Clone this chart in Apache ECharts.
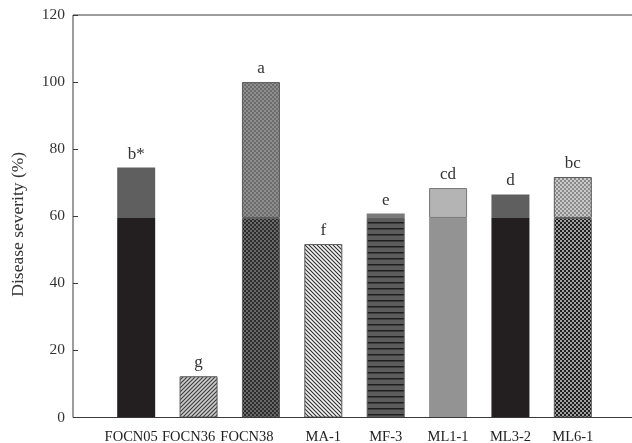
<!DOCTYPE html>
<html>
<head>
<meta charset="utf-8">
<script src="https://cdn.jsdelivr.net/npm/echarts@6/dist/echarts.min.js"></script>
<style>html,body{margin:0;padding:0;background:#fff;}#c{width:632px;height:443px;}</style>
</head>
<body>
<div id="c"></div>
<script>
// ---- data ----
const categories = ['FOCN05', 'FOCN36', 'FOCN38', 'MA-1', 'MF-3', 'ML1-1', 'ML3-2', 'ML6-1'];
const totalSeverity = [74.5, 12.3, 100, 51.7, 60.8, 68.4, 66.5, 71.7];
const lowerPart = [59.5, 12.3, 59.5, 51.7, 59.5, 59.5, 59.5, 59.5];
const letters = ['b*', 'g', 'a', 'f', 'e', 'cd', 'd', 'bc'];
const yTicks = [0, 20, 40, 60, 80, 100, 120];

// ---- pattern helpers ----
function pat(w, h, draw) {
  const c = document.createElement('canvas');
  c.width = w; c.height = h;
  const g = c.getContext('2d');
  draw(g, w, h);
  return { image: c, repeat: 'repeat' };
}
function hatch(bg, fg, size, dir) {
  return pat(size, size, (g, w, h) => {
    g.fillStyle = bg; g.fillRect(0, 0, w, h);
    g.strokeStyle = fg; g.lineWidth = 1.1;
    g.beginPath();
    if (dir > 0) {
      g.moveTo(-1, h + 1); g.lineTo(w + 1, -1);
      g.moveTo(-1, 1); g.lineTo(1, -1);
      g.moveTo(w - 1, h + 1); g.lineTo(w + 1, h - 1);
    } else {
      g.moveTo(-1, -1); g.lineTo(w + 1, h + 1);
      g.moveTo(w - 1, -1); g.lineTo(w + 1, 1);
      g.moveTo(-1, h - 1); g.lineTo(1, h + 1);
    }
    g.stroke();
  });
}
function checker(bg, fg) {
  return pat(4, 4, (g) => {
    g.fillStyle = bg; g.fillRect(0, 0, 4, 4);
    g.fillStyle = fg; g.fillRect(0, 0, 2, 2); g.fillRect(2, 2, 2, 2);
  });
}
function stripes(bg, fg) {
  return pat(4, 6, (g) => {
    g.fillStyle = bg; g.fillRect(0, 0, 4, 6);
    g.fillStyle = fg; g.fillRect(0, 0, 4, 1.5);
  });
}

const border = { borderColor: '#5a5a5a', borderWidth: 1 };
const lowerStyles = [
  { color: '#231f20' },
  Object.assign({ color: hatch('#cdcdcd', '#3a3a3a', 4, 1) }, border),
  Object.assign({ color: checker('#2c2c2c', '#6a6a6a') }, border),
  Object.assign({ color: hatch('#f4f4f4', '#2e2e2e', 4, -1) }, border),
  Object.assign({ color: stripes('#5c5c5c', '#1e1e1e') }, border),
  { color: '#939393' },
  { color: '#231f20' },
  Object.assign({ color: checker('#1e1e1e', '#a0a0a0') }, border)
];
const upperStyles = [
  { color: '#5f5f5f' },
  { color: '#cdcdcd' },
  Object.assign({ color: checker('#8e8e8e', '#6c6c6c') }, border),
  { color: '#f4f4f4' },
  { color: '#7a7a7a' },
  Object.assign({ color: '#b4b4b4' }, { borderColor: '#777', borderWidth: 1 }),
  { color: '#5f5f5f' },
  Object.assign({ color: checker('#cacaca', '#8a8a8a') }, border)
];

const labelShift = [10, 20, 28, 0, 0, 0, 0, 0];
const xData = categories.map((c, i) => ({ value: c, textStyle: { padding: [0, labelShift[i], 0, 0] } }));

const lowerData = lowerPart.map((v, i) => ({ value: v, itemStyle: lowerStyles[i] }));
const upperData = totalSeverity.map((t, i) => ({
  value: +(t - lowerPart[i]).toFixed(2),
  itemStyle: upperStyles[i],
  label: { formatter: letters[i] }
}));

const font = '"Liberation Serif", "Times New Roman", serif';
const chart = echarts.init(document.getElementById('c'), null, { renderer: 'canvas' });
chart.setOption({
  animation: false,
  backgroundColor: '#ffffff',
  textStyle: { fontFamily: font },
  grid: [
    { left: 105, right: 28, top: 15, bottom: 25.5, show: false, outerBoundsMode: 'none', containLabel: false },
    { left: 73, width: 620, top: 15, bottom: 25.5, show: true, borderColor: '#3a3a3a', borderWidth: 1, backgroundColor: 'transparent', z: 3, outerBoundsMode: 'none', containLabel: false }
  ],
  xAxis: [
    {
      type: 'category', gridIndex: 0, data: xData,
      axisLine: { show: false }, axisTick: { show: false },
      axisLabel: { color: '#222', fontSize: 14.5, fontFamily: font, margin: 12, interval: 0 }
    },
    { type: 'value', gridIndex: 1, show: false }
  ],
  yAxis: [
    {
      type: 'value', gridIndex: 0, min: 0, max: 120, interval: 20, offset: 32,
      name: 'Disease severity (%)', nameLocation: 'middle', nameRotate: 90, nameGap: 46,
      nameTextStyle: { color: '#333', fontSize: 17.5, fontFamily: font, padding: [0, 16, 0, 0] },
      axisLine: { show: false },
      axisTick: { show: true, inside: true, length: 5, lineStyle: { color: '#3a3a3a' } },
      axisLabel: { color: '#333', fontSize: 15.5, fontFamily: font, margin: 8,
        customValues: yTicks },
      splitLine: { show: false }
    },
    { type: 'value', gridIndex: 1, show: false }
  ],
  series: [
    { type: 'bar', name: 'lower', stack: 's', barWidth: 38, data: lowerData, xAxisIndex: 0, yAxisIndex: 0 },
    { type: 'bar', name: 'upper', stack: 's', barWidth: 38, data: upperData, xAxisIndex: 0, yAxisIndex: 0,
      label: { show: true, position: 'top', distance: 5, color: '#333', fontSize: 17, fontFamily: font } }
  ]
});
</script>
</body>
</html>
